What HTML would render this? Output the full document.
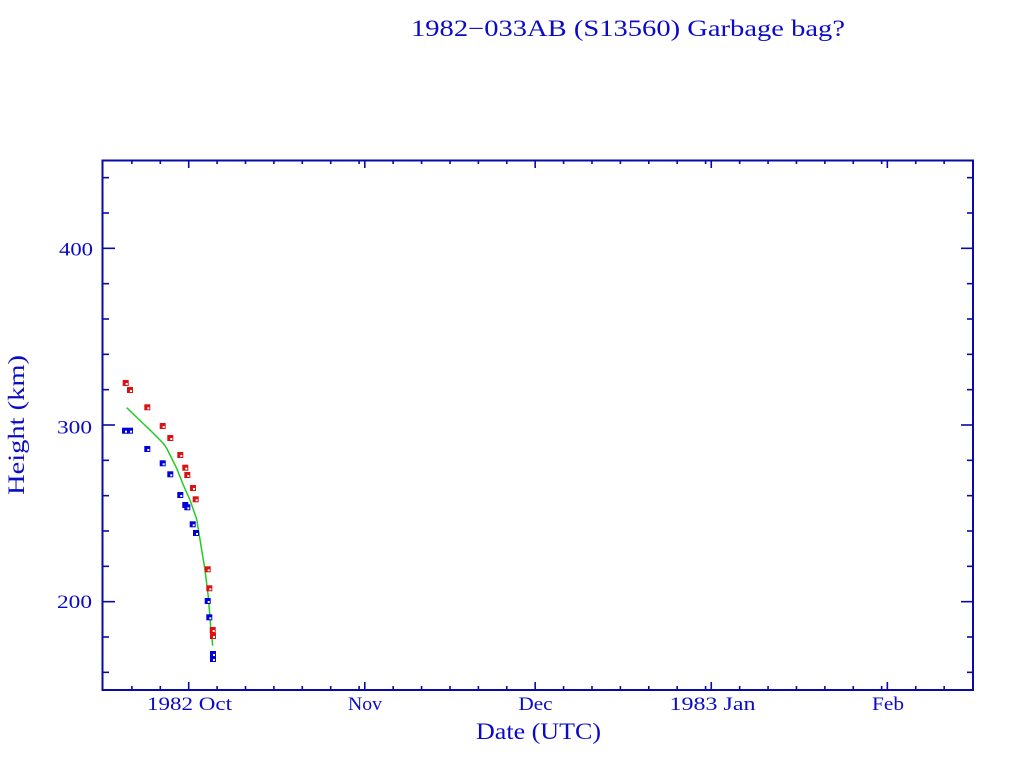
<!DOCTYPE html>
<html><head><meta charset="utf-8"><style>
html,body{margin:0;padding:0;background:#fff;}
svg{display:block;}
text{font-family:"Liberation Serif",serif;fill:#0a0ac8;}
</style></head><body>
<svg width="1024" height="768" viewBox="0 0 1024 768" xmlns="http://www.w3.org/2000/svg">
<rect x="0" y="0" width="1024" height="768" fill="#fff"/>
<text x="411" y="36" font-size="23" textLength="434" lengthAdjust="spacingAndGlyphs">1982−033AB (S13560) Garbage bag?</text>
<g stroke="#0a0aa8" stroke-width="2" fill="none">
<rect x="102.5" y="160.5" width="870.5" height="529.5"/>
</g>
<g id="ticks" stroke="#0a0aa8" stroke-width="1.6"></g>
<g font-size="19">
<text x="59" y="255.5" textLength="34" lengthAdjust="spacingAndGlyphs">400</text>
<text x="57" y="433.5" textLength="35" lengthAdjust="spacingAndGlyphs">300</text>
<text x="57" y="608" textLength="35" lengthAdjust="spacingAndGlyphs">200</text>
<text x="147" y="710" textLength="85" lengthAdjust="spacingAndGlyphs">1982 Oct</text>
<text x="348" y="710" textLength="34" lengthAdjust="spacingAndGlyphs">Nov</text>
<text x="518.5" y="710" textLength="34" lengthAdjust="spacingAndGlyphs">Dec</text>
<text x="669.5" y="710" textLength="86" lengthAdjust="spacingAndGlyphs">1983 Jan</text>
<text x="872" y="710" textLength="32" lengthAdjust="spacingAndGlyphs">Feb</text>
</g>
<text x="476" y="739" font-size="23" textLength="125" lengthAdjust="spacingAndGlyphs">Date (UTC)</text>
<text x="0" y="0" font-size="23" textLength="140" lengthAdjust="spacingAndGlyphs" transform="translate(24,495) rotate(-90)">Height (km)</text>
<polyline fill="none" stroke="#22cc22" stroke-width="1.5" points="126.7,407.7 140,420.5 150,430 163.3,443.3 166.7,448.3 170,455 176.7,468.3 183.3,485 190,500 196.7,519.3 201.7,550 205,570 208.3,596.7 210.7,626.7 212.7,645.7"/>
<g id="marks"></g>
</svg>
<script>
(function(){
var NS="http://www.w3.org/2000/svg";
var t=document.getElementById("ticks");
function ln(x1,y1,x2,y2){var l=document.createElementNS(NS,"line");l.setAttribute("x1",x1);l.setAttribute("y1",y1);l.setAttribute("x2",x2);l.setAttribute("y2",y2);t.appendChild(l);}
function X(d){return 188.7+5.68*d;}
var major=[0,31,61,92,123];
var minor=[-10,-5,5,10,15,20,25,30,36,41,46,51,56,66,71,76,81,86,91,97,102,107,112,117,122,128,133];
major.forEach(function(d){var x=X(d);ln(x,690,x,682);ln(x,160,x,168);});
minor.forEach(function(d){var x=X(d);ln(x,690,x,686);ln(x,160,x,164);});
function Y(h){return 690-(h-150)*1.7667;}
for(var h=160;h<=440;h+=20){var y=Y(h);if(h%100===0){ln(102,y,115,y);ln(973,y,961,y);}else{ln(102,y,109,y);ln(973,y,967,y);}}
var m=document.getElementById("marks");
function mk(x,y,c){var r=document.createElementNS(NS,"rect");r.setAttribute("x",x-3);r.setAttribute("y",y-3);r.setAttribute("width",6);r.setAttribute("height",6);r.setAttribute("fill",c);m.appendChild(r);
var w=document.createElementNS(NS,"rect");w.setAttribute("x",x);w.setAttribute("y",y);w.setAttribute("width",2);w.setAttribute("height",2);w.setAttribute("fill","#fff");m.appendChild(w);}
var red=[[125.7,383],[130,390],[147.3,407.3],[162.7,426],[170.3,438],[180.3,455],[185.3,467.7],[187.3,475],[193,488],[195.7,499.3],[207.7,569.3],[209.3,588.3],[212.7,630],[213,636]];
var blue=[[125,430.7],[130,430.7],[147.3,449],[162.7,463.3],[170.3,474.3],[180.3,495],[185.3,505],[187.3,507.3],[192.7,524.3],[196,533],[207.7,601],[209.3,617.3],[213,654],[213,659]];
red.forEach(function(p){mk(p[0],p[1],"#dd1111");});
blue.forEach(function(p){mk(p[0],p[1],"#0000dd");});
})();
</script>
</body></html>
